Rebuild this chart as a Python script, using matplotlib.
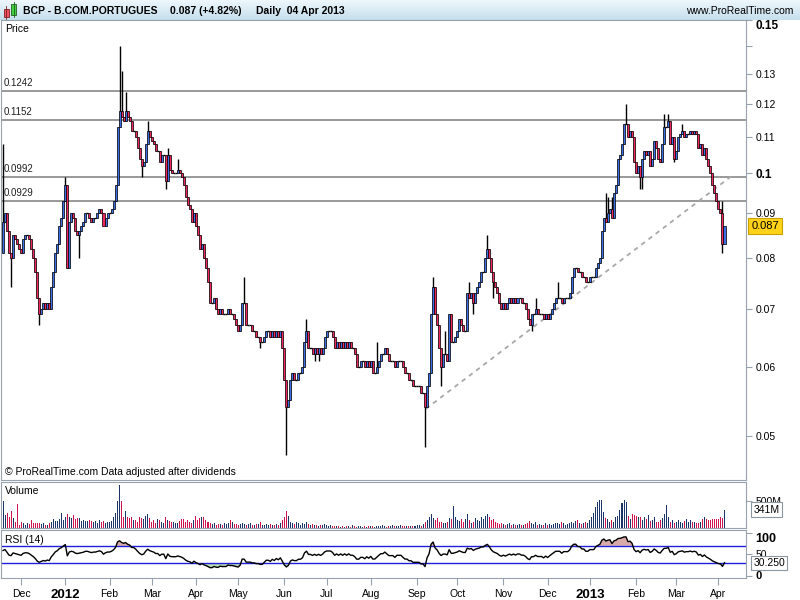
import numpy as np
import pandas as pd
import matplotlib
matplotlib.use('Agg')
import matplotlib.pyplot as plt
from matplotlib.ticker import NullLocator

plt.rcParams['font.family'] = ['Liberation Sans', 'DejaVu Sans']

# Dados diarios BCP (fecho), 18 Nov 2011 a 04 Apr 2013
datas = pd.bdate_range('2011-11-18', '2013-04-04')
primeira_abertura = 0.081
fechos = [
    0.088, 0.090, 0.086, 0.081, 0.080, 0.085, 0.084, 0.083, 0.082, 0.081,
    0.084, 0.085, 0.085, 0.084, 0.082, 0.080, 0.077, 0.072, 0.069, 0.070,
    0.071, 0.070, 0.071, 0.070, 0.074, 0.077, 0.081, 0.083, 0.087, 0.089,
    0.093, 0.097, 0.078, 0.088, 0.090, 0.089, 0.086, 0.085, 0.086, 0.087,
    0.088, 0.090, 0.090, 0.089, 0.088, 0.089, 0.089, 0.090, 0.091, 0.090,
    0.087, 0.089, 0.090, 0.090, 0.091, 0.093, 0.097, 0.113, 0.118, 0.116,
    0.115, 0.118, 0.116, 0.115, 0.112, 0.112, 0.110, 0.107, 0.104, 0.102,
    0.103, 0.108, 0.112, 0.110, 0.109, 0.108, 0.106, 0.106, 0.103, 0.105,
    0.105, 0.098, 0.105, 0.101, 0.100, 0.100, 0.100, 0.101, 0.100, 0.099,
    0.097, 0.094, 0.092, 0.091, 0.088, 0.090, 0.087, 0.085, 0.082, 0.083,
    0.080, 0.078, 0.075, 0.071, 0.071, 0.072, 0.070, 0.069, 0.070, 0.069,
    0.069, 0.069, 0.070, 0.069, 0.069, 0.068, 0.067, 0.066, 0.067, 0.071,
    0.071, 0.067, 0.067, 0.067, 0.066, 0.066, 0.065, 0.065, 0.064, 0.064,
    0.065, 0.066, 0.066, 0.065, 0.066, 0.065, 0.066, 0.065, 0.066, 0.063,
    0.058, 0.054, 0.055, 0.058, 0.059, 0.058, 0.058, 0.059, 0.059, 0.060,
    0.064, 0.066, 0.063, 0.063, 0.062, 0.063, 0.062, 0.063, 0.062, 0.063,
    0.065, 0.066, 0.066, 0.066, 0.065, 0.063, 0.064, 0.063, 0.064, 0.063,
    0.064, 0.063, 0.064, 0.063, 0.063, 0.062, 0.060, 0.060, 0.061, 0.061,
    0.060, 0.061, 0.060, 0.061, 0.059, 0.059, 0.060, 0.061, 0.062, 0.062,
    0.063, 0.062, 0.061, 0.061, 0.061, 0.060, 0.061, 0.061, 0.061, 0.060,
    0.059, 0.059, 0.058, 0.058, 0.057, 0.057, 0.057, 0.057, 0.056, 0.056,
    0.054, 0.057, 0.059, 0.069, 0.074, 0.069, 0.067, 0.063, 0.060, 0.062,
    0.062, 0.061, 0.069, 0.064, 0.064, 0.065, 0.066, 0.068, 0.067, 0.066,
    0.066, 0.073, 0.072, 0.073, 0.071, 0.073, 0.074, 0.075, 0.077, 0.077,
    0.080, 0.082, 0.080, 0.077, 0.075, 0.074, 0.073, 0.071, 0.070, 0.071,
    0.070, 0.071, 0.072, 0.071, 0.072, 0.071, 0.072, 0.072, 0.071, 0.071,
    0.070, 0.068, 0.067, 0.069, 0.069, 0.070, 0.069, 0.069, 0.069, 0.068,
    0.069, 0.068, 0.069, 0.070, 0.071, 0.072, 0.072, 0.072, 0.071, 0.072,
    0.072, 0.072, 0.073, 0.076, 0.078, 0.078, 0.077, 0.077, 0.076, 0.076,
    0.075, 0.075, 0.076, 0.076, 0.076, 0.078, 0.079, 0.080, 0.086, 0.089,
    0.088, 0.090, 0.091, 0.089, 0.095, 0.097, 0.104, 0.105, 0.108, 0.114,
    0.114, 0.110, 0.112, 0.110, 0.103, 0.100, 0.102, 0.099, 0.104, 0.106,
    0.105, 0.106, 0.102, 0.104, 0.109, 0.107, 0.104, 0.103, 0.108, 0.113,
    0.113, 0.115, 0.108, 0.110, 0.104, 0.106, 0.110, 0.111, 0.112, 0.110,
    0.111, 0.111, 0.112, 0.111, 0.112, 0.111, 0.107, 0.108, 0.105, 0.107,
    0.104, 0.102, 0.100, 0.097, 0.095, 0.093, 0.091, 0.090, 0.083, 0.087,
]
# pavios visiveis (indice: (maximo, minimo))
pavios = {
    0: (0.108, 0.081), 4: (0.081, 0.074), 18: (0.072, 0.067), 31: (0.099, 0.093),
    38: (0.086, 0.080), 58: (0.140, 0.113), 59: (0.131, 0.116), 61: (0.124, 0.115),
    69: (0.104, 0.099), 72: (0.115, 0.108), 81: (0.105, 0.096), 82: (0.107, 0.098),
    87: (0.104, 0.100), 120: (0.076, 0.071), 128: (0.064, 0.063), 141: (0.058, 0.0475),
    151: (0.068, 0.064), 155: (0.063, 0.061), 157: (0.063, 0.061), 186: (0.064, 0.060),
    210: (0.056, 0.0485), 214: (0.076, 0.069), 218: (0.063, 0.057), 220: (0.066, 0.062),
    232: (0.075, 0.072), 234: (0.073, 0.069), 241: (0.085, 0.080), 244: (0.077, 0.072),
    263: (0.069, 0.066), 265: (0.072, 0.069), 276: (0.075, 0.072), 300: (0.095, 0.088),
    301: (0.094, 0.088), 303: (0.094, 0.089), 310: (0.120, 0.114), 317: (0.102, 0.096),
    318: (0.104, 0.096), 329: (0.117, 0.108), 331: (0.117, 0.113), 334: (0.110, 0.103),
    338: (0.114, 0.111), 358: (0.093, 0.081),
}
# volume em milhoes de accoes
volume = [
    490, 245, 277, 212, 309, 180, 116, 437, 51, 103,
    84, 64, 84, 70, 148, 84, 97, 97, 84, 70,
    84, 51, 64, 84, 116, 167, 129, 129, 167, 277,
    148, 212, 257, 212, 193, 245, 167, 180, 193, 129,
    148, 129, 135, 148, 129, 116, 129, 84, 148, 103,
    129, 84, 116, 103, 129, 212, 277, 502, 791, 490,
    212, 309, 212, 180, 212, 148,
    150, 120, 200, 180, 160, 230, 250, 180, 120, 140, 100, 170, 150, 110, 90, 200, 150,
    130, 120, 110, 100, 90, 130, 160, 170, 120, 140, 110, 100, 150, 220, 150, 180, 210,
    200, 140, 110, 90, 80, 100, 60, 80, 70, 60, 90, 70, 100, 150, 120, 80, 70, 60, 80, 90,
    70, 60, 80, 90, 60, 50, 70, 80, 120, 60, 50, 70, 60, 80, 50, 60, 70, 60, 90, 140, 200, 310,
    230, 120, 100, 80, 110, 90, 60, 100, 80, 120, 70, 60, 70, 50, 60, 40, 50, 60, 70, 50,
    40, 50, 40, 30,
    30, 40, 20, 30, 25, 40, 30, 20, 50, 30, 20, 40, 30, 20, 30, 25, 30, 40, 35, 20, 30, 40,
    30, 60, 30, 20, 40, 30, 50, 30, 40, 30, 50, 40,
    30, 40, 35, 40, 45, 30, 50, 60, 40, 80, 110, 150, 200, 260, 190, 150, 180, 120, 110, 100,
    90, 120, 190, 160, 410, 200, 150, 130, 170, 120,
    160, 250, 140, 100, 120, 190, 150, 130, 200, 170, 220, 250, 200, 150, 160, 120, 100, 80,
    90, 70, 60, 70, 90, 60, 70, 60, 50, 80, 60, 50,
    70, 100, 130, 90, 80, 110, 60, 70, 50, 60, 90, 60, 80, 50, 70, 90, 100, 80, 120, 90,
    60, 70, 100, 120, 90, 130, 150, 100, 80, 90,
    110, 90, 150, 200, 270, 380, 480, 520, 520, 300, 180, 160, 120, 140, 110, 200, 220, 330,
    460, 520, 480, 220, 170, 250, 240, 230, 200, 210, 150, 200,
    160, 240, 130, 150, 200, 110, 120, 140, 180, 250, 420, 200, 120, 140, 100, 120, 150, 110,
    100, 130, 160, 120, 140, 110, 120, 100, 90, 110, 170, 210,
    160, 140, 150, 170, 160, 170, 160, 210, 180, 341,
]
niveis = [0.1242, 0.1152, 0.0992, 0.0929]
linha_tendencia_x = [210.4, 362.2]
linha_tendencia_y = [0.0537, 0.0992]
ticks_preco = [0.05, 0.06, 0.07, 0.08, 0.09, 0.1, 0.11, 0.12, 0.13, 0.14, 0.15]
rotulos_preco = ['0.05', '0.06', '0.07', '0.08', '0.09', '0.1', '0.11', '0.12', '0.13', '', '0.15']
ultimo_rsi = 30.250
semente_rsi = 0.0012  # media inicial de ganhos/perdas

c = np.array(fechos)
o = np.array([primeira_abertura] + fechos[:-1])
h = np.maximum(o, c)
l = np.minimum(o, c)
for k, (hi, lo) in pavios.items():
    h[k] = max(h[k], hi)
    l[k] = min(l[k], lo)
idx = np.arange(len(c))
sobe = c > o
desce = c < o
igual = c == o

# RSI(14) de Wilder
delta = pd.Series(c - o)
ganho = delta.clip(lower=0)
perda = -delta.clip(upper=0)
ganho = pd.concat([pd.Series([semente_rsi]), ganho], ignore_index=True).ewm(alpha=1 / 14, adjust=False).mean()[1:]
perda = pd.concat([pd.Series([semente_rsi]), perda], ignore_index=True).ewm(alpha=1 / 14, adjust=False).mean()[1:]
rsi = (100 - 100 / (1 + ganho / perda)).values

AZUL = '#3b6fe6'
VERM = '#f0285e'
CINZA = '#98a2ac'

fig = plt.figure(figsize=(8, 6), dpi=100)


def eixo(x0, y0, x1, y1):
    return fig.add_axes([x0 / 800, 1 - y1 / 600, (x1 - x0) / 800, (y1 - y0) / 600])


# barra de titulo
axt = eixo(0, 0, 800, 20)
grad = np.linspace(0, 1, 50).reshape(-1, 1)
axt.imshow(grad, aspect='auto', extent=[0, 800, 20, 0],
           cmap=matplotlib.colors.LinearSegmentedColormap.from_list('t', ['#eef7fc', '#c6dfed']))
axt.set_xlim(0, 800)
axt.set_ylim(20, 0)
axt.axis('off')
axt.add_patch(plt.Rectangle((3.5, 9), 5, 8, fc='#f05060', ec='#802020', lw=0.6))
axt.plot([6, 6], [6, 19], color='#802020', lw=0.6)
axt.add_patch(plt.Rectangle((11, 4), 5, 11, fc='#40d040', ec='#206020', lw=0.6))
axt.plot([13.5, 13.5], [2, 17], color='#206020', lw=0.6)
axt.text(23, 11, 'BCP - B.COM.PORTUGUES', fontsize=7.5, fontweight='bold', va='center')
axt.text(170, 11, '0.087 (+4.82%)', fontsize=7.5, fontweight='bold', va='center')
axt.text(256, 11, 'Daily  04 Apr 2013', fontsize=7.5, fontweight='bold', va='center')
axt.text(793, 11, 'www.ProRealTime.com', fontsize=7.5, va='center', ha='right')

ax = eixo(1, 20, 746, 480)
axv = eixo(1, 482, 746, 528)
axr = eixo(1, 530, 746, 578)

xlim = (-1, 369.7)
for a in (ax, axv, axr):
    a.set_xlim(*xlim)
    for s in a.spines.values():
        s.set_color(CINZA)
    a.yaxis.tick_right()
    a.tick_params(axis='y', direction='out', length=4, color=CINZA, labelsize=7.5, pad=3)
    a.tick_params(axis='x', bottom=False, labelbottom=False)

# painel de precos
ax.set_yscale('log')
ax.set_ylim(0.0445, 0.15)
ax.set_yticks(ticks_preco)
ax.set_yticklabels(rotulos_preco)
ax.yaxis.set_minor_locator(NullLocator())
for t in ax.get_yticklabels():
    if t.get_text() in ('0.1', '0.15'):
        t.set_fontweight('bold')
        t.set_fontsize(8.5)
    if t.get_text() == '0.15':
        t.set_verticalalignment('top')

for v in niveis:
    ax.axhline(v, color='#888888', lw=1.2, zorder=1)
    ax.annotate('%g' % v, xy=(0.004, v), xycoords=('axes fraction', 'data'),
                xytext=(0, 3), textcoords='offset pixels', fontsize=7, color='#202020', va='bottom')

ax.plot(linha_tendencia_x, linha_tendencia_y, color='#a8a8a8', lw=1.3, ls=(0, (2.5, 2.5)), zorder=2)

ax.vlines(idx, l, h, color='black', lw=1.0, zorder=3)
ax.bar(idx[sobe], (c - o)[sobe], bottom=o[sobe], width=1.0, color=AZUL, edgecolor='black', lw=0.5, zorder=4)
ax.bar(idx[desce], (o - c)[desce], bottom=c[desce], width=1.0, color=VERM, edgecolor='black', lw=0.5, zorder=4)
ax.hlines(c[igual], idx[igual] - 0.5, idx[igual] + 0.5, color='black', lw=1.0, zorder=4)

ax.text(0.005, 0.980, 'Price', transform=ax.transAxes, fontsize=7.5, va='center')
ax.text(0.005, 0.017, '\u00a9 ProRealTime.com Data adjusted after dividends',
        transform=ax.transAxes, fontsize=7.5, va='center')
ax.text(1.007, c[-1], '%.3f' % c[-1], transform=ax.get_yaxis_transform(), fontsize=8,
        va='center', ha='left', zorder=10, clip_on=False,
        bbox=dict(boxstyle='square,pad=0.25', fc='#ffd21a', ec='#c9a000', lw=0.8))

# painel de volume
cor_vol = np.where(desce, '#d0124f', '#1c3568')
axv.bar(idx, volume, width=0.5, color=cor_vol)
axv.set_ylim(0, 850)
axv.set_yticks([500])
axv.set_yticklabels(['500M'])
axv.text(0.005, 0.80, 'Volume', transform=axv.transAxes, fontsize=7.5, va='center')
axv.text(1.010, volume[-1], '%dM' % volume[-1], transform=axv.get_yaxis_transform(), fontsize=7.5,
         va='center', ha='left', zorder=10, clip_on=False,
         bbox=dict(boxstyle='square,pad=0.2', fc='white', ec='#8c96a0', lw=0.8))

# painel RSI
axr.set_ylim(-5, 107)
axr.axhline(70, color='#2020d8', lw=1)
axr.axhline(30, color='#2020d8', lw=1)
axr.fill_between(idx, rsi, 70, where=rsi > 70, interpolate=True, color='#d9aaaa', lw=0)
axr.fill_between(idx, rsi, 30, where=rsi < 30, interpolate=True, color='#b8dbb2', lw=0)
axr.plot(idx, rsi, color='black', lw=1)
axr.set_yticks([0, 50, 100])
axr.set_yticklabels(['0', '50', '100'])
for t in axr.get_yticklabels():
    if t.get_text() == '100':
        t.set_fontweight('bold')
        t.set_fontsize(9)
        t.set_verticalalignment('top')
    if t.get_text() == '0':
        t.set_fontweight('bold')
        t.set_fontsize(8)
        t.set_verticalalignment('center')
axr.text(0.005, 0.79, 'RSI (14)', transform=axr.transAxes, fontsize=7.5, va='center')
axr.text(1.010, ultimo_rsi, '%.3f' % ultimo_rsi, transform=axr.get_yaxis_transform(), fontsize=7.5,
         va='center', ha='left', zorder=10, clip_on=False,
         bbox=dict(boxstyle='square,pad=0.2', fc='white', ec='#8c96a0', lw=0.8))

# eixo das datas
inicio_mes = [i for i in range(1, len(datas)) if datas[i].month != datas[i - 1].month]
rotulos = [datas[i].strftime('%Y') if datas[i].month == 1 else datas[i].strftime('%b') for i in inicio_mes]
axr.set_xticks(inicio_mes)
axr.set_xticklabels(rotulos)
axr.tick_params(axis='x', bottom=True, labelbottom=True, direction='out', length=5,
                color=CINZA, labelsize=7.5, pad=3)
for t in axr.get_xticklabels():
    if t.get_text().isdigit():
        t.set_fontweight('bold')
        t.set_fontsize(9.5)

fig.savefig('out.png', dpi=100)
